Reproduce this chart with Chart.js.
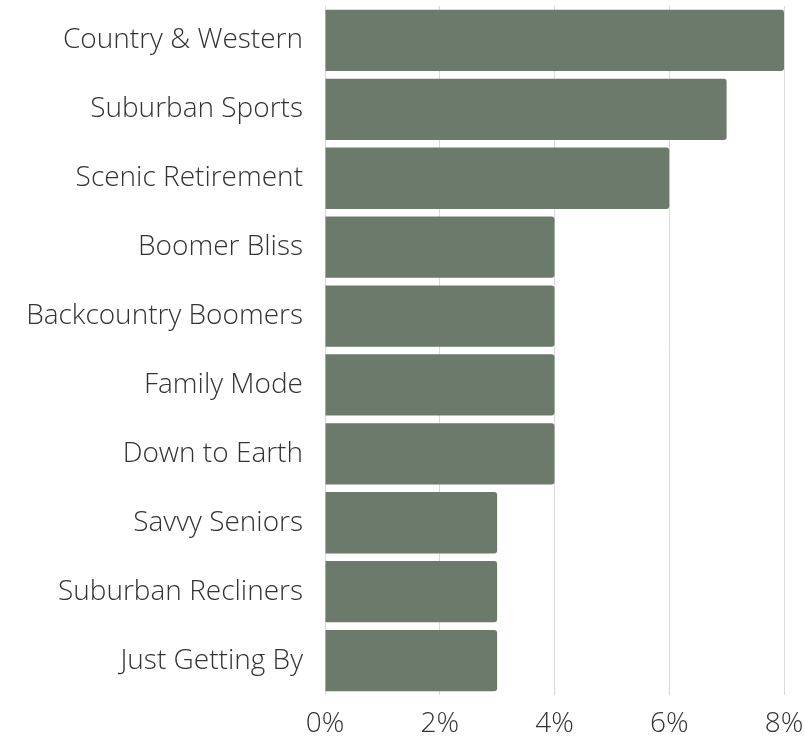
<!DOCTYPE html>
<html>
<head>
<meta charset="utf-8">
<script src="https://cdn.jsdelivr.net/npm/chart.js@4.4.1/dist/chart.umd.min.js"></script>
<style>
  html, body { margin: 0; padding: 0; background: #fff; }
  #wrap { width: 805px; height: 741px; position: relative; }
</style>
</head>
<body>
<div id="wrap"><canvas id="grafico"></canvas></div>
<script>
const categorias = [
  "Country & Western",
  "Suburban Sports",
  "Scenic Retirement",
  "Boomer Bliss",
  "Backcountry Boomers",
  "Family Mode",
  "Down to Earth",
  "Savvy Seniors",
  "Suburban Recliners",
  "Just Getting By",
];
const percentuais = [8, 7, 6, 4, 4, 4, 4, 3, 3, 3];
const ticksX = [0, 2, 4, 6, 8];

const corBarra = "#6b7a6a";
const fonte = { family: "'Open Sans'", weight: 300, size: 28 };

const ctx = document.getElementById("grafico").getContext("2d");

new Chart(ctx, {
  type: "bar",
  data: {
    labels: categorias,
    datasets: [
      {
        data: percentuais,
        backgroundColor: corBarra,
        borderRadius: { topRight: 3, bottomRight: 3 },
        borderSkipped: false,
        barPercentage: 0.89,
        categoryPercentage: 1,
      },
    ],
  },
  options: {
    indexAxis: "y",
    responsive: true,
    maintainAspectRatio: false,
    animation: false,
    layout: { padding: { top: 6, right: 21, left: 0, bottom: 0 } },
    plugins: {
      legend: { display: false },
      tooltip: { enabled: false },
    },
    scales: {
      x: {
        min: 0,
        max: 8,
        afterBuildTicks: (scale) => {
          scale.ticks = ticksX.map((v) => ({ value: v }));
        },
        afterFit: (scale) => {
          scale.height = 46;
          scale.paddingLeft = 0;
          scale.paddingRight = 0;
        },
        ticks: {
          color: "#333",
          font: fonte,
          padding: 12,
          maxRotation: 0,
          callback: (v) => v + "%",
        },
        grid: { color: "#d9d9d9", drawTicks: false },
        border: { display: false },
      },
      y: {
        afterFit: (scale) => {
          scale.width = 325;
          scale.paddingTop = 0;
          scale.paddingBottom = 0;
        },
        ticks: { color: "#333", font: fonte, padding: 14 },
        grid: { display: false },
        border: { display: false },
      },
    },
  },
});
</script>
</body>
</html>
